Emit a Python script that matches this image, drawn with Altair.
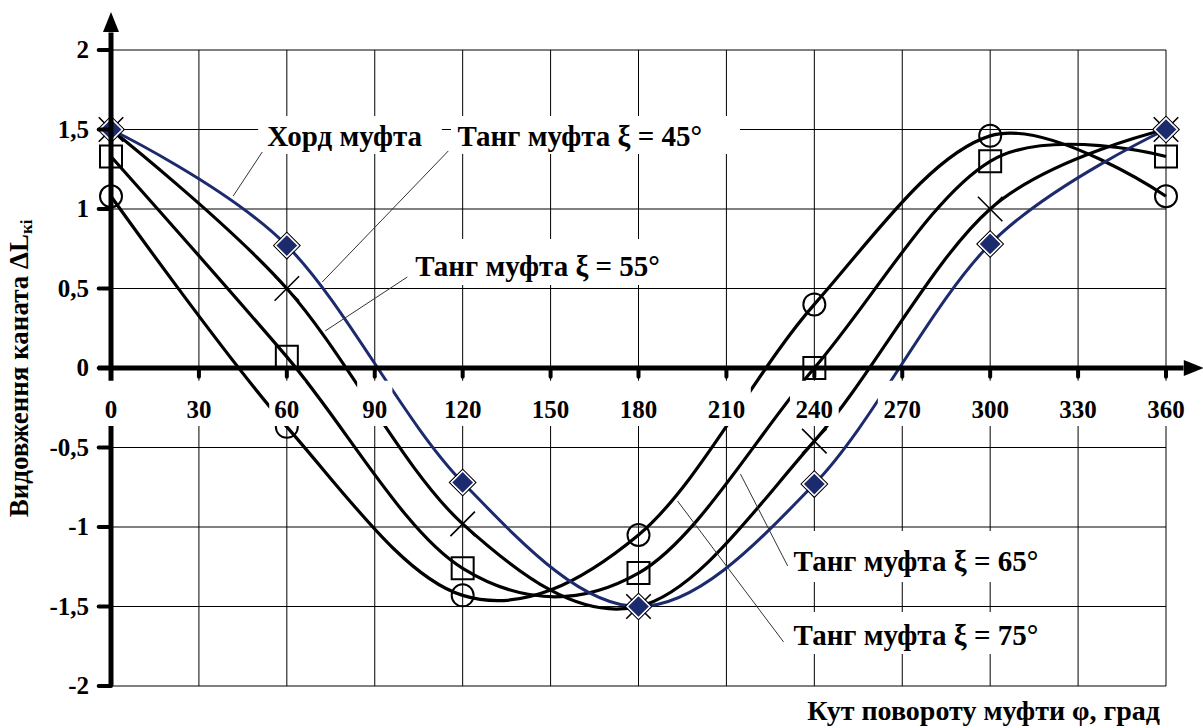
import altair as alt
import pandas as pd

# Coupling rotation angle φ, degrees
phi = [0, 60, 120, 180, 240, 300, 360]

# Rope elongation ΔL for each coupling type
chord_45 = [1.5, 0.77, -0.72, -1.5, -0.73, 0.78, 1.5]   # chord coupling (coincides with tangent ξ = 45°)
tang_55 = [1.5, 0.5, -0.98, -1.5, -0.46, 1.0, 1.5]
tang_65 = [1.33, 0.07, -1.26, -1.29, 0.0, 1.3, 1.33]
tang_75 = [1.08, -0.37, -1.43, -1.05, 0.4, 1.46, 1.08]

x_ticks = [0, 30, 60, 90, 120, 150, 180, 210, 240, 270, 300, 330, 360]
y_ticks = [-2, -1.5, -1, -0.5, 0, 0.5, 1, 1.5, 2]

# Curve annotations: text, text anchor, white box and leader line (data units)
note_text = ["Хорд муфта", "Танг муфта ξ = 45°", "Танг муфта ξ = 55°",
             "Танг муфта ξ = 65°", "Танг муфта ξ = 75°"]
note_x = [53.3, 118.2, 103.8, 232.9, 232.9]
note_y = [1.453, 1.453, 0.635, -1.22, -1.685]
box_x0 = [50.2, 116.0, 101.3, 230.7, 230.7]
box_x1 = [112.9, 214.6, 194.2, 322.1, 322.1]
box_y0 = [1.585, 1.585, 0.811, -1.025, -1.535]
box_y1 = [1.346, 1.346, 0.522, -1.346, -1.799]
lead_x0 = [51.6, 115.1, 101.1, 230.9, 229.5]
lead_y0 = [1.358, 1.365, 0.572, -1.245, -1.723]
lead_x1 = [41.7, 72.1, 73.1, 214.8, 193.3]
lead_y1 = [1.082, 0.541, 0.233, -0.667, -0.836]

FONT = "Liberation Serif"
NAVY = "#1c2a6e"
W, H = 1055, 636
PX_PER_DEG = W / 360

xs = alt.Scale(domain=[0, 360], nice=False, zero=False)
ys = alt.Scale(domain=[-2, 2], nice=False, zero=False)


def X(f):
    return alt.X(f, type="quantitative", scale=xs, axis=None)


def Y(f):
    return alt.Y(f, type="quantitative", scale=ys, axis=None)


def fmt(v):
    return f"{v:g}".replace(".", ",")


# ---- tables -------------------------------------------------------------
tang = pd.DataFrame({
    "phi": phi * 3,
    "dl": tang_55 + tang_65 + tang_75,
    "series": ["55"] * 7 + ["65"] * 7 + ["75"] * 7,
})
chord = pd.DataFrame({"phi": phi, "dl": chord_45})
s55 = pd.DataFrame({"phi": phi, "dl": tang_55})
s65 = pd.DataFrame({"phi": phi, "dl": tang_65})
s75 = pd.DataFrame({"phi": phi, "dl": tang_75})

gx = pd.DataFrame({"t": x_ticks})
gy = pd.DataFrame({"t": y_ticks})

notes = pd.DataFrame({"text": note_text, "x": note_x, "y": note_y})
boxes = pd.DataFrame({"x0": box_x0, "x1": box_x1, "y0": box_y0, "y1": box_y1})
leads = pd.DataFrame({"x0": lead_x0, "y0": lead_y0, "x1": lead_x1, "y1": lead_y1})

xlab = pd.DataFrame({"t": x_ticks, "label": [str(t) for t in x_ticks]})
half = [(6.8 * len(s) + 4) / PX_PER_DEG for s in xlab["label"]]
xlab["x0"] = xlab["t"] - half
xlab["x1"] = xlab["t"] + half
xlab["y0"] = -0.08
xlab["y1"] = -0.365
xlab["ty"] = -0.264

ylab = pd.DataFrame({"t": y_ticks, "label": [fmt(v) for v in y_ticks]})

xstub = pd.DataFrame({"t": x_ticks[1:], "y0": 0.0, "y1": -0.055})
ystub = pd.DataFrame({"t": y_ticks, "x0": -4.2, "x1": 0.0})

x_axis = pd.DataFrame({"x0": [-4.4], "x1": [366.0], "y": [0.0]})
y_axis = pd.DataFrame({"x": [0.0], "y0": [-2.0], "y1": [2.11]})
x_head = pd.DataFrame({"x": [369.5], "y": [0.0]})
y_head = pd.DataFrame({"x": [0.0], "y": [2.176]})

# ---- layers -------------------------------------------------------------
grid_v = alt.Chart(gx).mark_rule(color="black", strokeWidth=1).encode(x=X("t"))
grid_h = alt.Chart(gy).mark_rule(color="black", strokeWidth=1).encode(y=Y("t"))

tang_lines = alt.Chart(tang).mark_line(
    interpolate="cardinal", color="black", strokeWidth=3.2
).encode(x=X("phi"), y=Y("dl"), detail="series:N")

cross_pts = alt.Chart(s55).mark_point(
    shape="M-1,-1L1,1M-1,1L1,-1", filled=False, color="black",
    strokeWidth=1.6, size=600, opacity=1
).encode(x=X("phi"), y=Y("dl"))
square_pts = alt.Chart(s65).mark_point(
    shape="square", filled=False, color="black", strokeWidth=2, size=484, opacity=1
).encode(x=X("phi"), y=Y("dl"))
circle_pts = alt.Chart(s75).mark_point(
    shape="circle", filled=False, color="black", strokeWidth=2, size=484, opacity=1
).encode(x=X("phi"), y=Y("dl"))

chord_line = alt.Chart(chord).mark_line(
    interpolate="cardinal", color=NAVY, strokeWidth=3
).encode(x=X("phi"), y=Y("dl"))
chord_outer = alt.Chart(chord).mark_point(
    shape="diamond", filled=False, color="black", strokeWidth=1.2, size=700, opacity=1
).encode(x=X("phi"), y=Y("dl"))
chord_pts = alt.Chart(chord).mark_point(
    shape="diamond", filled=True, fill=NAVY, stroke="white", strokeWidth=1.5,
    size=520, opacity=1
).encode(x=X("phi"), y=Y("dl"))

note_boxes = alt.Chart(boxes).mark_rect(color="white").encode(
    x=X("x0"), x2="x1", y=Y("y0"), y2="y1")
note_leads = alt.Chart(leads).mark_rule(color="#333333", strokeWidth=1).encode(
    x=X("x0"), y=Y("y0"), x2="x1", y2="y1")
note_labels = alt.Chart(notes).mark_text(
    font=FONT, fontWeight="bold", fontSize=29, color="black",
    align="left", baseline="middle"
).encode(x=X("x"), y=Y("y"), text="text:N")

x_line = alt.Chart(x_axis).mark_rule(color="black", strokeWidth=5).encode(
    x=X("x0"), x2="x1", y=Y("y"))
y_line = alt.Chart(y_axis).mark_rule(color="black", strokeWidth=5).encode(
    x=X("x"), y=Y("y0"), y2="y1")
x_arrow = alt.Chart(x_head).mark_point(
    shape="M1,0L-1,-0.8L-1,0.8Z", filled=True, color="black", size=400, opacity=1
).encode(x=X("x"), y=Y("y"))
y_arrow = alt.Chart(y_head).mark_point(
    shape="M0,-1L0.8,1L-0.8,1Z", filled=True, color="black", size=400, opacity=1
).encode(x=X("x"), y=Y("y"))
x_stubs = alt.Chart(xstub).mark_rule(color="black", strokeWidth=4, strokeCap="round").encode(
    x=X("t"), y=Y("y0"), y2="y1")
y_stubs = alt.Chart(ystub).mark_rule(color="black", strokeWidth=4, strokeCap="round").encode(
    x=X("x0"), x2="x1", y=Y("t"))

xlab_boxes = alt.Chart(xlab).mark_rect(color="white").encode(
    x=X("x0"), x2="x1", y=Y("y0"), y2="y1")
xlab_text = alt.Chart(xlab).mark_text(
    font=FONT, fontWeight="bold", fontSize=25, color="black",
    align="center", baseline="middle"
).encode(x=X("t"), y=Y("ty"), text="label:N")
ylab_text = alt.Chart(ylab).mark_text(
    font=FONT, fontWeight="bold", fontSize=25, color="black",
    align="right", baseline="middle"
).encode(x=alt.value(-22), y=Y("t"), text="label:N")

x_title = alt.Chart(pd.DataFrame({"s": ["Кут повороту муфти φ, град"]})).mark_text(
    font=FONT, fontWeight="bold", fontSize=28, color="black",
    align="right", baseline="middle"
).encode(x=alt.value(W - 6), y=alt.value(H + 26), text="s:N")
y_title = alt.Chart(pd.DataFrame({"s": ["Видовження каната ΔL"]})).mark_text(
    font=FONT, fontWeight="bold", fontSize=27, color="black",
    align="right", baseline="middle", angle=270
).encode(x=alt.value(-91), y=alt.value(184), text="s:N")
y_title_sub = alt.Chart(pd.DataFrame({"s": ["кі"]})).mark_text(
    font=FONT, fontWeight="bold", fontSize=17, color="black",
    align="left", baseline="middle", angle=270, dy=7
).encode(x=alt.value(-91), y=alt.value(184), text="s:N")

chart = alt.layer(
    grid_v, grid_h,
    tang_lines, cross_pts, square_pts, circle_pts,
    chord_line, chord_outer, chord_pts,
    note_boxes, note_leads, note_labels,
    x_line, y_line, x_arrow, y_arrow, x_stubs, y_stubs,
    xlab_boxes, xlab_text, ylab_text,
    x_title, y_title, y_title_sub,
).properties(
    width=W, height=H,
    autosize=alt.AutoSizeParams(type="none"),
    padding={"left": 111, "top": 50, "right": 37, "bottom": 42},
    background="white",
).configure_view(stroke=None)

chart.save("out.html", embed_options={"renderer": "svg", "actions": False})
